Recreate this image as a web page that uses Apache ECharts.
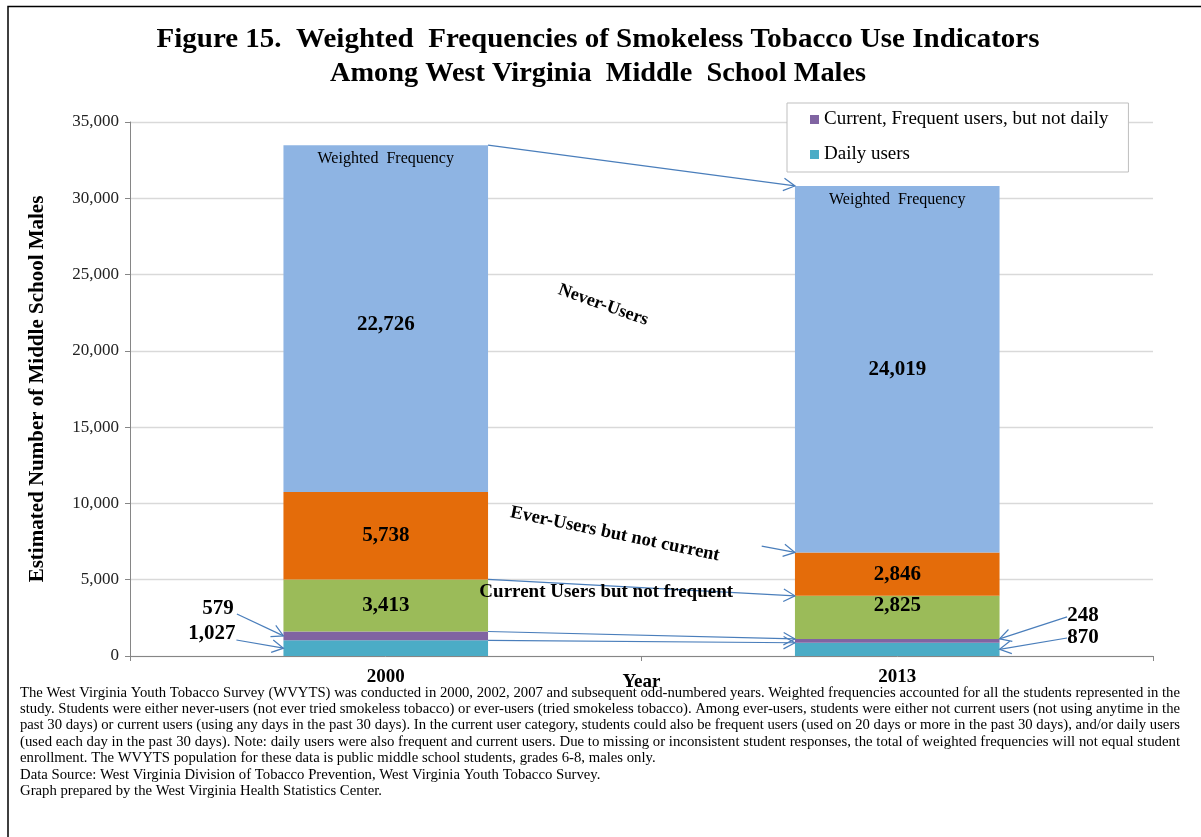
<!DOCTYPE html>
<html>
<head>
<meta charset="utf-8">
<script src="https://cdn.jsdelivr.net/npm/echarts@6/dist/echarts.min.js"></script>
<style>
html,body{margin:0;padding:0;background:#fff;}
#chart{width:1201px;height:837px;}
</style>
</head>
<body>
<div id="chart"></div>
<script>
// ---- data ----
const years = ['2000', '2013'];
const dailyUsers = [1027, 870];
const frequentNotDaily = [579, 248];
const currentNotFrequent = [3413, 2825];
const everNotCurrent = [5738, 2846];
const neverUsers = [22726, 24019];
const yTicks = { min: 0, max: 35000, interval: 5000 };

const titleLines = [
  'Figure 15.  Weighted  Frequencies of Smokeless Tobacco Use Indicators',
  'Among West Virginia  Middle  School Males'
];
const footLines = [
  'The West Virginia Youth Tobacco Survey (WVYTS) was conducted in 2000, 2002, 2007 and subsequent odd-numbered years. Weighted frequencies accounted for all the students represented in the',
  'study. Students were either never-users (not ever tried smokeless tobacco) or ever-users (tried smokeless tobacco). Among ever-users, students were either not current users (not using anytime in the',
  'past 30 days) or current users (using any days in the past 30 days). In the current user category, students could also be frequent users (used on 20 days or more in the past 30 days), and/or daily users',
  '(used each day in the past 30 days). Note: daily users were also frequent and current users. Due to missing or inconsistent student responses, the total of weighted frequencies will not equal student',
  'enrollment. The WVYTS population for these data is public middle school students, grades 6-8, males only.',
  'Data Source: West Virginia Division of Tobacco Prevention, West Virginia Youth Tobacco Survey.',
  'Graph prepared by the West Virginia Health Statistics Center.'
];

// stack tops derived from data
const topTeal = dailyUsers.slice();
const topPurple = topTeal.map((v, i) => v + frequentNotDaily[i]);
const topGreen = topPurple.map((v, i) => v + currentNotFrequent[i]);
const topOrange = topGreen.map((v, i) => v + everNotCurrent[i]);
const topAll = topOrange.map((v, i) => v + neverUsers[i]);
const fmt = v => v.toLocaleString('en-US');

// annotation anchors on a hidden 0..2 value axis (bars centred at 0.5 and 1.5, edges +-0.2)
const arrowFrom = [
  [0.7, topAll[0]], [0.7, topGreen[0]], [0.7, topPurple[0]], [0.7, topTeal[0]],
  [1.235, 7200], [0.209, 2750], [0.208, 1050], [1.832, 2560], [1.832, 1180]
];
const arrowTo = [
  [1.3, topAll[1]], [1.3, topGreen[1]], [1.3, topPurple[1]], [1.3, topTeal[1]],
  [1.3, topOrange[1]], [0.3, topTeal[0] + frequentNotDaily[0] / 2], [0.3, dailyUsers[0] / 2],
  [1.7, topPurple[1]], [1.7, dailyUsers[1] / 2]
];
const noteTexts = [
  fmt(frequentNotDaily[0]), fmt(dailyUsers[0]), fmt(frequentNotDaily[1]), fmt(dailyUsers[1]),
  'Never-Users', 'Ever-Users but not current', 'Current Users but not frequent',
  'Weighted  Frequency', 'Weighted  Frequency'
];
const notePos = [
  [0.172, 3080], [0.16, 1440], [1.863, 2620], [1.863, 1180],
  [0.925, 23000], [0.948, 7990], [0.931, 4200],
  [0.5, topAll[0]], [1.5, topAll[1]]
];

// ---- styles ----
const SERIF = '"Liberation Serif", "Times New Roman", serif';
const noteStyle = [
  { font: 'bold 21px ' + SERIF, rot: 0, dy: 0 },
  { font: 'bold 21px ' + SERIF, rot: 0, dy: 0 },
  { font: 'bold 21px ' + SERIF, rot: 0, dy: 0 },
  { font: 'bold 21px ' + SERIF, rot: 0, dy: 0 },
  { font: 'bold 18px ' + SERIF, rot: -0.34, dy: 0 },
  { font: 'bold 18.5px ' + SERIF, rot: -0.205, dy: 0 },
  { font: 'bold 19px ' + SERIF, rot: 0, dy: 0 },
  { font: '16px ' + SERIF, rot: 0, dy: 14 },
  { font: '16px ' + SERIF, rot: 0, dy: 14 }
];
const ARROW = '#4A7EBB';

const chart = echarts.init(document.getElementById('chart'), null, { renderer: 'canvas' });

const measCtx = document.createElement('canvas').getContext('2d');
function textW(font, t) { measCtx.font = font; return measCtx.measureText(t).width; }

// title graphics (scaled to match the reference widths)
const titleFont = 'bold 28px ' + SERIF;
const titleTargets = [883, 536];
const graphics = [];
titleLines.forEach((t, i) => {
  const s = titleTargets[i] / textW(titleFont, t);
  graphics.push({ type: 'text', x: 598, y: 40 + i * 34, scaleX: s, scaleY: 1,
    style: { text: t, font: titleFont, fill: '#000', align: 'center', verticalAlign: 'middle' } });
});
// footnote
const footFont = '14px ' + SERIF;
const justScale = footLines.slice(0, 4).map(t => 1160 / textW(footFont, t));
const avgScale = justScale.reduce((a, b) => a + b, 0) / justScale.length;
footLines.forEach((t, i) => {
  const s = i < 4 ? justScale[i] : avgScale;
  graphics.push({ type: 'text', x: 20, y: 693 + i * 16.4, scaleX: s, scaleY: 1,
    style: { text: t, font: footFont, fill: '#000', align: 'left', verticalAlign: 'middle' } });
});
// frame
graphics.push({ type: 'polyline', shape: { points: [[8, 837], [8, 6.5], [1201, 6.5]] },
  style: { stroke: '#000', lineWidth: 1.5, fill: null }, z: 100 });

function barSeries(name, data, color, showLabel, offsets) {
  return {
    name, type: 'bar', stack: 'total', barWidth: '40%', xAxisIndex: 0, yAxisIndex: 0,
    itemStyle: { color },
    data: data.map((v, i) => ({
      value: v,
      label: offsets ? { offset: offsets[i] } : undefined
    })),
    label: {
      show: showLabel, position: 'inside', color: '#000',
      fontFamily: SERIF, fontWeight: 'bold', fontSize: 21,
      formatter: p => fmt(p.value)
    },
    emphasis: { disabled: true }
  };
}

const option = {
  animation: false,
  backgroundColor: '#fff',
  grid: { left: 130, right: 48, top: 122, bottom: 181, containLabel: false },
  legend: {
    data: ['Current, Frequent users, but not daily', 'Daily users'],
    orient: 'vertical', left: 787, top: 103,
    padding: [7, 20, 8, 23], itemGap: 16, itemWidth: 9, itemHeight: 9,
    icon: 'rect', borderColor: '#BFBFBF', borderWidth: 1, backgroundColor: '#fff',
    textStyle: { fontFamily: SERIF, fontSize: 19, color: '#000', lineHeight: 18 },
    selectedMode: false
  },
  xAxis: [
    {
      type: 'category', data: years, gridIndex: 0,
      name: 'Year', nameLocation: 'middle', nameGap: 17, nameMoveOverlap: false,
      nameTextStyle: { fontFamily: SERIF, fontWeight: 'bold', fontSize: 19, color: '#000' },
      axisLine: { lineStyle: { color: '#868686', width: 1 } },
      axisTick: { show: true, length: 5, lineStyle: { color: '#868686' } },
      axisLabel: { fontFamily: SERIF, fontWeight: 'bold', fontSize: 19, color: '#000', margin: 12 }
    },
    { type: 'value', min: 0, max: 2, show: false, gridIndex: 0 }
  ],
  yAxis: {
    type: 'value', min: yTicks.min, max: yTicks.max, interval: yTicks.interval,
    name: 'Estimated Number of Middle School Males', nameLocation: 'middle', nameGap: 82, nameMoveOverlap: false,
    nameTextStyle: { fontFamily: SERIF, fontWeight: 'bold', fontSize: 21, color: '#000' },
    axisLine: { show: true, lineStyle: { color: '#868686' } },
    axisTick: { show: true, length: 5, lineStyle: { color: '#868686' } },
    splitLine: { lineStyle: { color: '#D9D9D9', width: 1.3 } },
    axisLabel: { fontFamily: SERIF, fontSize: 17, color: '#222', margin: 11, formatter: v => fmt(v) }
  },
  series: [
    barSeries('Daily users', dailyUsers, '#4BACC6', false),
    barSeries('Current, Frequent users, but not daily', frequentNotDaily, '#8064A2', false),
    barSeries('Current Users but not frequent', currentNotFrequent, '#9BBB59', true, [[0, 0], [0, -12]]),
    barSeries('Ever-Users but not current', everNotCurrent, '#E46C0A', true),
    barSeries('Never-Users', neverUsers, '#8EB4E3', true, [[0, 6], [0, 0]]),
    {
      name: 'arrows', type: 'custom', xAxisIndex: 1, yAxisIndex: 0, z: 10, silent: true,
      data: arrowFrom.map(p => p.slice()),
      renderItem: function (params, api) {
        const i = params.dataIndex;
        const p1 = api.coord(arrowFrom[i]);
        const p2 = api.coord(arrowTo[i]);
        const dx = p2[0] - p1[0], dy = p2[1] - p1[1];
        const len = Math.hypot(dx, dy), ux = dx / len, uy = dy / len;
        const L = 13, c = Math.cos(0.5), s = Math.sin(0.5);
        const b1 = [p2[0] - L * (ux * c - uy * s), p2[1] - L * (uy * c + ux * s)];
        const b2 = [p2[0] - L * (ux * c + uy * s), p2[1] - L * (uy * c - ux * s)];
        return { type: 'group', children: [
          { type: 'polyline', shape: { points: [p1, p2] }, style: { stroke: ARROW, lineWidth: 1.2, fill: null } },
          { type: 'polyline', shape: { points: [b1, p2, b2] }, style: { stroke: ARROW, lineWidth: 1.2, fill: null } }
        ] };
      }
    },
    {
      name: 'notes', type: 'custom', xAxisIndex: 1, yAxisIndex: 0, z: 11, silent: true,
      data: notePos.map(p => p.slice()),
      renderItem: function (params, api) {
        const i = params.dataIndex;
        const p = api.coord(notePos[i]);
        const st = noteStyle[i];
        return { type: 'text', x: p[0], y: p[1] + st.dy, rotation: st.rot,
          style: { text: noteTexts[i], font: st.font, fill: '#000', align: 'center', verticalAlign: 'middle' } };
      }
    }
  ],
  graphic: graphics
};
chart.setOption(option);
</script>
</body>
</html>
